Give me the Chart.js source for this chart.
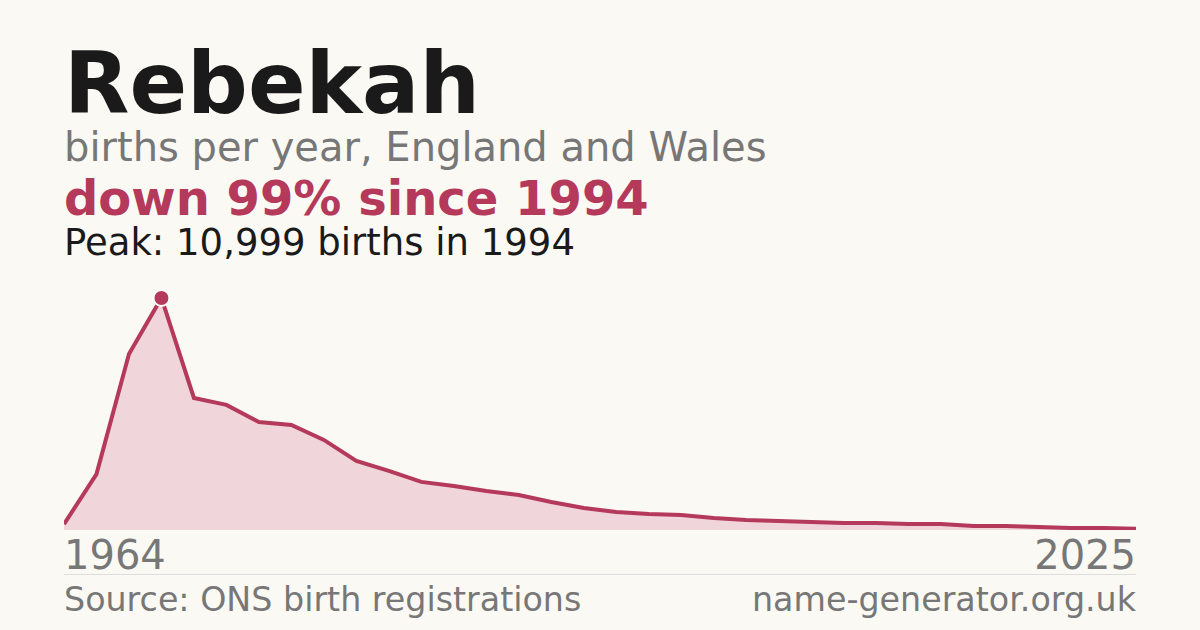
<!DOCTYPE html>
<html><head><meta charset="utf-8">
<script src="https://cdn.jsdelivr.net/npm/chart.js@4/dist/chart.umd.min.js"></script>
<style>
body{margin:0;width:1200px;height:630px;background:#faf9f4;font-family:"DejaVu Sans",sans-serif;position:relative;overflow:hidden}
.t{position:absolute;left:64px;white-space:nowrap}
#wrap{position:absolute;left:64px;top:280px;width:1072px;height:250px}
</style></head><body>
<div class="t" style="top:34px;font-size:85px;font-weight:bold;color:#1a1a1a">Rebekah</div>
<div class="t" style="top:124px;font-size:40px;color:#777">births per year, England and Wales</div>
<div class="t" style="top:170px;font-size:48px;font-weight:bold;color:#b5395a">down 99% since 1994</div>
<div class="t" style="top:221px;font-size:37px;color:#1a1a1a">Peak: 10,999 births in 1994</div>
<div id="wrap"><canvas id="c"></canvas></div>
<div class="t" style="top:532px;font-size:40px;color:#777">1964</div>
<div class="t" style="top:532px;left:auto;right:64px;font-size:40px;color:#777">2025</div>
<div style="position:absolute;left:64px;width:1072px;top:574px;border-top:1px solid #ddd"></div>
<div class="t" style="top:580px;font-size:33.3px;color:#777">Source: ONS birth registrations</div>
<div class="t" style="top:580px;left:auto;right:64px;font-size:33.3px;color:#777">name-generator.org.uk</div>
<script>
// Datos
const births = [280,2650,8340,10999,6260,5930,5120,4980,4270,3270,2800,2280,2090,1850,1660,1330,1040,850,760,710,570,470,430,380,330,330,280,280,190,190,140,95,95,60];
const labels = births.map((_, i) => String(i));
const peakIndex = 3;

new Chart(document.getElementById('c'), {
    type: 'line',
    data: {labels: labels, datasets: [{
        data: births,
        borderColor: '#b5395a', borderWidth: 4, fill: true, backgroundColor: '#f0d5da',
        tension: 0,
        pointRadius: births.map((v, i) => i === peakIndex ? 8 : 0),
        pointBackgroundColor: '#b5395a', pointBorderColor: '#ffffff', pointBorderWidth: 2
    }]},
    options: {
        responsive: true, maintainAspectRatio: false, animation: false,
        layout: {padding: 0},
        plugins: {legend: {display: false}, tooltip: {enabled: false}},
        scales: {
            x: {display: false, offset: false},
            y: {display: false, min: 0, max: 11850}
        }
    }
});
</script>
</body></html>
